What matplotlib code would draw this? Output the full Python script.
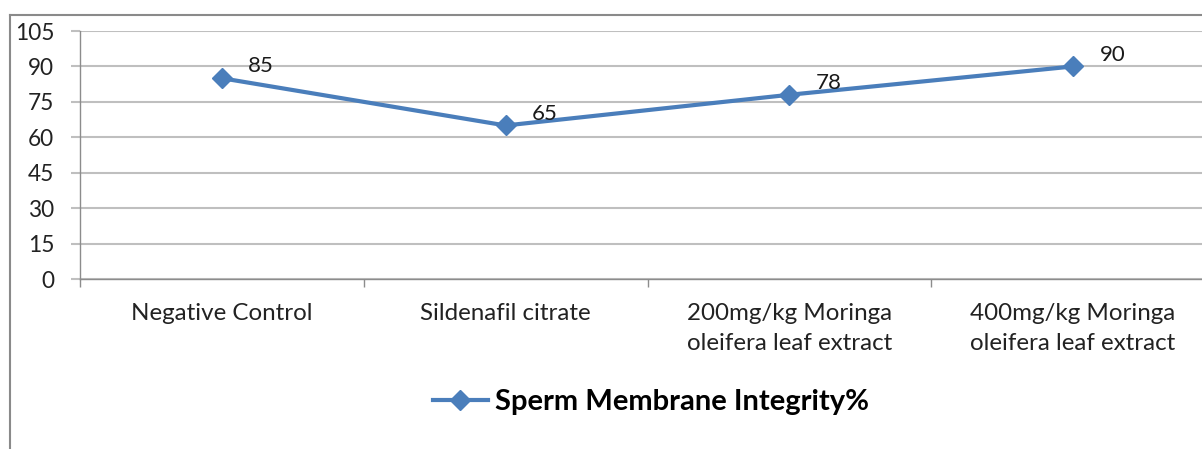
import matplotlib.pyplot as plt
from matplotlib.lines import Line2D

categories = ["Negative Control", "Sildenafil citrate",
              "200mg/kg Moringa\noleifera leaf extract",
              "400mg/kg Moringa\noleifera leaf extract"]
values = [85, 65, 78, 90]
y_ticks = [0, 15, 30, 45, 60, 75, 90, 105]
series_name = "Sperm Membrane Integrity%"

plt.rcParams['font.family'] = ['Lato', 'DejaVu Sans']

W, H = 1202, 449
fig = plt.figure(figsize=(W / 100, H / 100), dpi=100)
fig.patch.set_facecolor('white')

# axes box in pixels: left 80, right 1215 (cropped), top 31, bottom 279
ax = fig.add_axes([80 / W, 1 - 279 / H, (1215 - 80) / W, (279 - 31) / H])

blue = '#4a7ebb'
x = list(range(len(categories)))
line, = ax.plot(x, values, color=blue, lw=3, marker='D', markersize=10,
                markeredgecolor=blue, zorder=3, label=series_name)

for xi, v in zip(x, values):
    ax.annotate(str(v), (xi, v), xytext=(19, 8.5), textcoords='offset points',
                ha='left', va='center', fontsize=16, color='#1a1a1a')

ax.set_xlim(-0.5, 3.5)
ax.set_ylim(0, 105)
ax.set_yticks(y_ticks)
ax.set_xticks(x)
ax.set_xticklabels(categories, fontsize=17.4, color='#222222', linespacing=1.55)
ax.set_xticks([i - 0.5 for i in range(len(categories) + 1)], minor=True)

grid_c = '#bfbfbf'
ax.yaxis.grid(True, color=grid_c, lw=1.5)
ax.set_axisbelow(True)
ax.tick_params(axis='y', length=6.5, width=1.5, color=grid_c, pad=12,
               labelsize=16.3, labelcolor='#222222')
ax.tick_params(axis='x', which='major', length=0, pad=17)
ax.tick_params(axis='x', which='minor', length=6, width=1, color='#8c8c8c')

for s in ['top', 'right']:
    ax.spines[s].set_visible(False)
for s in ['left', 'bottom']:
    ax.spines[s].set_color('#8c8c8c')
    ax.spines[s].set_linewidth(1)

# outer chart border (partly cropped)
border = '#8a8a8a'
fig.add_artist(Line2D([10 / W, 10 / W], [0, 1 - 15 / H], color=border, lw=1.5))
fig.add_artist(Line2D([10 / W, 1], [1 - 15 / H, 1 - 15 / H], color=border, lw=1.5))

fig.legend(handles=[line], loc='center', bbox_to_anchor=(651 / W, 1 - 402 / H),
           frameon=False, handlelength=1.9, handletextpad=0.25,
           prop={'weight': 'bold', 'size': 21})

fig.savefig('out.png', dpi=100)
